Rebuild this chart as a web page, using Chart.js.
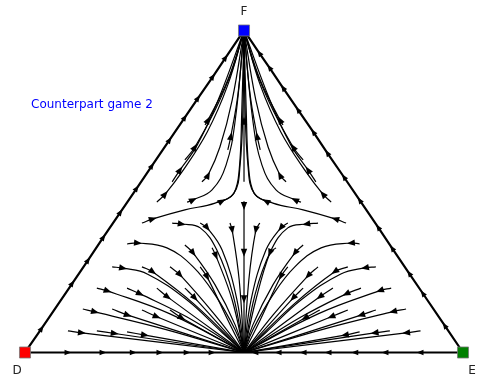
<!DOCTYPE html>
<html>
<head>
<meta charset="utf-8">
<script src="https://cdn.jsdelivr.net/npm/chart.js@4.4.0/dist/chart.umd.min.js"></script>
<style>
  html, body { margin: 0; padding: 0; background: #fff; }
  #wrap { width: 479px; height: 377px; }
</style>
</head>
<body>
<div id="wrap"><canvas id="chart" width="479" height="377"></canvas></div>
<script>
// simplex in percent units: D = (0,0), E = (100,0), F = (50,100)
var vertices = [[0, 0], [100, 0], [50, 100]];
var vertexNames = ['D', 'E', 'F'];
var vertexColors = ['#ff0000', '#008000', '#0000ff'];
var titleText = 'Counterpart game 2';

// edges of the simplex (points = arrow positions)
var edgeLeft = [[0, 0], [3.8, 7.5], [10.8, 21.5], [14.4, 28.7], [17.9, 35.8], [21.8, 43.6], [25.5, 51], [29, 58],
  [33, 66], [36.5, 73], [39.5, 79], [42.9, 85.7], [45.8, 91.6], [50, 100]];
var edgeRight = [[100, 0], [95.8, 8.4], [90.8, 18.4], [87.7, 24.6], [83.8, 32.4], [80.6, 38.9], [76.4, 47.3], [72.8, 54.5],
  [69, 62], [65.8, 68.5], [62.3, 75.4], [58.9, 82.2], [55.8, 88.5], [53.5, 93], [50, 100]];
var baseLeft = [[0, 0], [9.8, 0], [17.8, 0], [24.7, 0], [30.8, 0], [37.0, 0], [42.7, 0], [50, 0]];
var baseRight = [[100, 0], [90.2, 0], [82.2, 0], [75.3, 0], [69.2, 0], [63.5, 0], [57.8, 0], [52.5, 0], [50, 0]];

// streamlines ending in the sink on the base
var lowerLeft = [
  [[9.8, 6.7], [13.0, 6.1], [50, 0]],
  [[16.4, 6.7], [20.5, 5.9], [50, 0]],
  [[23.3, 6.4], [27.4, 5.4], [50, 0]],
  [[13.2, 13.5], [16.0, 12.6], [32, 7.2], [50, 0]],
  [[19.9, 13.5], [23.5, 11.6], [50, 0]],
  [[26.7, 13.2], [30.1, 11.1], [50, 0]],
  [[33.1, 13.2], [35.8, 10.7], [50, 0]],
  [[16.4, 20.0], [18.9, 19.1], [33.1, 12.0], [50, 0]],
  [[23.3, 20.0], [26.3, 18.2], [37, 11], [50, 0]],
  [[30.1, 20.0], [32.6, 17.2], [50, 0]],
  [[36.5, 20.0], [38.8, 16.9], [50, 0]],
  [[19.9, 26.6], [22.4, 26.2], [27.9, 24.4], [37.0, 16.3], [45, 6.2], [50, 0]],
  [[26.7, 26.6], [29.2, 25.0], [38.8, 14.8], [50, 0]],
  [[33.1, 26.6], [35.4, 24.1], [43.4, 11.6], [50, 0]],
  [[40.0, 26.6], [41.6, 23.4], [46.3, 10.1], [50, 0]],
  [[23.3, 33.7], [25.8, 34.0], [32.4, 32.5], [38.4, 26.6], [43.4, 17.9], [48, 7.0], [50, 0]],
  [[36.5, 33.4], [38.4, 30.9], [43.4, 21.0], [48, 8.5], [50, 0]],
  [[42.7, 32.5], [43.6, 30.0], [47.3, 16.3], [50, 0]],
  [[33.6, 40.2], [35.8, 39.9], [40.0, 38.7], [43.8, 31.8], [47.5, 17.9], [50, 0]],
  [[40.0, 40.2], [41.6, 38.7], [45, 31.8], [48.4, 16.3], [50, 0]],
  [[46.8, 40.2], [47.3, 38.0], [48.9, 22.5], [50, 0]]
];
var lowerRight = [
  [[90.3, 6.7], [87.0, 6.1], [50, 0]],
  [[83.3, 6.7], [79.8, 6.1], [50, 0]],
  [[76.4, 6.4], [73.0, 5.4], [50, 0]],
  [[87.0, 13.5], [84.0, 12.7], [68, 7.2], [50, 0]],
  [[80.1, 13.2], [76.7, 11.6], [50, 0]],
  [[73.7, 13.2], [69.9, 11.1], [50, 0]],
  [[67.3, 13.2], [63.9, 10.7], [50, 0]],
  [[83.6, 20.0], [81.0, 19.2], [66.9, 12.0], [50, 0]],
  [[76.7, 20.0], [73.3, 18.2], [63, 11], [50, 0]],
  [[70.3, 20.0], [67.3, 17.3], [50, 0]],
  [[63.5, 20.0], [61.2, 16.9], [50, 0]],
  [[80.1, 26.6], [77.6, 26.3], [72.1, 24.4], [63, 16.3], [55, 6.2], [50, 0]],
  [[73.7, 26.6], [70.7, 25.1], [61.2, 14.8], [50, 0]],
  [[66.9, 26.6], [64.6, 23.8], [56.6, 11.6], [50, 0]],
  [[60.0, 26.6], [58.4, 23.6], [53.7, 10.1], [50, 0]],
  [[76.4, 33.7], [74.4, 34.0], [67.6, 32.5], [61.6, 26.6], [56.6, 17.9], [52, 7.0], [50, 0]],
  [[63.5, 33.4], [61.6, 30.9], [56.6, 21.0], [52, 8.5], [50, 0]],
  [[57.3, 32.5], [55.9, 30.9], [52.7, 16.3], [50, 0]],
  [[66.9, 40.2], [64.2, 39.9], [60.0, 38.7], [56.2, 31.8], [52.5, 17.9], [50, 0]],
  [[60.0, 40.2], [58.4, 38.7], [55, 31.8], [51.6, 16.3], [50, 0]],
  [[53.6, 40.2], [52.7, 38.0], [51.1, 22.5], [50, 0]]
];
var centerDown = [[50, 47], [50, 45.5], [50, 31], [50, 16.5], [50, 0]];

// streamlines ending in F
var upperLeft = [
  [[26.7, 40.2], [29.2, 41.5], [36.5, 44.3], [43.4, 46.4], [47.7, 49.5], [49.1, 58.2], [49.8, 78.4], [50, 100]],
  [[30.1, 46.7], [32.0, 49.2], [35.8, 56.0], [41.6, 68.5], [46.3, 83.1], [50, 100]],
  [[33.6, 53.0], [35.4, 56.7], [39.3, 64.4], [44.1, 78.4], [50, 100]],
  [[37.0, 46.7], [38.4, 47.4], [42.7, 50.5], [45.9, 58.2], [48.0, 72.2], [50, 100]],
  [[40.4, 53.0], [41.8, 55.1], [44.5, 63.8], [47.3, 78.4], [50, 100]],
  [[43.8, 46.7], [45.0, 47.0], [47.7, 49.5], [48.9, 56.7], [49.5, 75.3], [50, 100]],
  [[36.5, 59.8], [38.8, 63.8], [43.4, 75.3], [47.3, 87.7], [50, 100]],
  [[41.1, 70.7], [41.8, 72.2], [46.3, 84.6], [50, 100]],
  [[46.3, 62.9], [47.0, 67.2], [48.6, 80.0], [50, 100]]
];
var upperRight = [
  [[73.3, 40.2], [70.8, 41.5], [63.5, 44.3], [56.6, 46.4], [52.3, 49.5], [50.9, 58.2], [50.2, 78.4], [50, 100]],
  [[69.9, 46.7], [68.0, 49.2], [64.2, 56.0], [58.4, 68.5], [53.7, 83.1], [50, 100]],
  [[66.4, 53.0], [64.6, 56.7], [60.7, 64.4], [55.9, 78.4], [50, 100]],
  [[63.0, 46.7], [61.6, 47.4], [57.3, 50.5], [54.1, 58.2], [52.0, 72.2], [50, 100]],
  [[59.6, 53.0], [58.2, 55.1], [55.5, 63.8], [52.7, 78.4], [50, 100]],
  [[56.2, 46.7], [55.0, 47.0], [52.3, 49.5], [51.1, 56.7], [50.5, 75.3], [50, 100]],
  [[63.5, 59.8], [61.2, 63.8], [56.6, 75.3], [52.7, 87.7], [50, 100]],
  [[58.9, 70.7], [58.2, 72.2], [53.7, 84.6], [50, 100]],
  [[53.7, 62.9], [53.0, 67.2], [51.4, 80.0], [50, 100]]
];
var centerUp = [[50, 53], [50, 60], [50, 72], [50, 100]];

function interior(arr) {
  var idx = [];
  for (var i = 1; i < arr.length - 1; i++) idx.push(i);
  return idx;
}

var datasets = [];
// vertex markers on top
datasets.push({
  type: 'scatter',
  data: vertices,
  pointStyle: 'rect',
  pointRadius: 7.8,
  pointBackgroundColor: vertexColors,
  pointBorderColor: '#777',
  pointBorderWidth: 0.8,
  showLine: false,
  clip: false
});
[edgeLeft, edgeRight, baseLeft, baseRight].forEach(function(e) {
  datasets.push({ data: e, borderColor: '#000', borderWidth: 2.2, tension: 0, arrowAt: interior(e), arrowSize: 0.85 });
});
var streams = lowerLeft.concat(lowerRight, upperLeft, upperRight);
streams.forEach(function(s) {
  datasets.push({ data: s, borderColor: '#000', borderWidth: 1.2, tension: 0.4, arrowAt: [1] });
});
datasets.push({ data: centerDown, borderColor: '#000', borderWidth: 1.2, tension: 0, arrowAt: [1, 2, 3] });
datasets.push({ data: centerUp, borderColor: '#000', borderWidth: 1.2, tension: 0, arrowAt: [2] });

// arrow heads along streamlines, placed on the dataset points
var arrowPlugin = {
  id: 'arrows',
  afterDatasetsDraw: function(chart) {
    var ctx = chart.ctx;
    ctx.save();
    ctx.fillStyle = '#000';
    chart.data.datasets.forEach(function(ds, di) {
      if (!ds.arrowAt) return;
      var pts = chart.getDatasetMeta(di).data;
      var k = ds.arrowSize || 1;
      ds.arrowAt.forEach(function(i) {
        var p = pts[i], q = pts[i + 1];
        var dx, dy;
        if (p.cp1x !== undefined && p.cp2x !== undefined && (p.cp2x !== p.cp1x || p.cp2y !== p.cp1y)) {
          dx = p.cp2x - p.cp1x; dy = p.cp2y - p.cp1y;
        } else {
          dx = q.x - p.x; dy = q.y - p.y;
        }
        var len = Math.sqrt(dx * dx + dy * dy) || 1;
        var ux = dx / len, uy = dy / len;
        var L = 8 * k, W = 3.2 * k;
        ctx.beginPath();
        ctx.moveTo(p.x + ux * L / 2, p.y + uy * L / 2);
        ctx.lineTo(p.x - ux * L / 2 - uy * W, p.y - uy * L / 2 + ux * W);
        ctx.lineTo(p.x - ux * L / 2 + uy * W, p.y - uy * L / 2 - ux * W);
        ctx.closePath();
        ctx.fill();
      });
    });
    ctx.restore();
  },
  afterDraw: function(chart) {
    var ctx = chart.ctx;
    var xs = chart.scales.x, ys = chart.scales.y;
    ctx.save();
    ctx.font = '12px "DejaVu Sans"';
    ctx.fillStyle = '#222';
    ctx.textAlign = 'center';
    ctx.textBaseline = 'middle';
    var offs = [[-8, 18], [9, 18], [0, -19]];
    vertices.forEach(function(v, i) {
      ctx.fillText(vertexNames[i], xs.getPixelForValue(v[0]) + offs[i][0], ys.getPixelForValue(v[1]) + offs[i][1]);
    });
    ctx.fillStyle = '#0000ff';
    ctx.textAlign = 'left';
    ctx.fillText(titleText, 31, 105);
    ctx.restore();
  }
};

new Chart(document.getElementById('chart'), {
  type: 'line',
  data: { datasets: datasets },
  plugins: [arrowPlugin],
  options: {
    responsive: false,
    animation: false,
    events: [],
    layout: { padding: 0, autoPadding: false },
    elements: { point: { radius: 0 } },
    plugins: { legend: { display: false }, tooltip: { enabled: false } },
    scales: {
      x: { type: 'linear', min: -5.71, max: 103.65, display: false },
      y: { type: 'linear', min: -7.61, max: 109.47, display: false }
    }
  }
});
</script>
</body>
</html>
